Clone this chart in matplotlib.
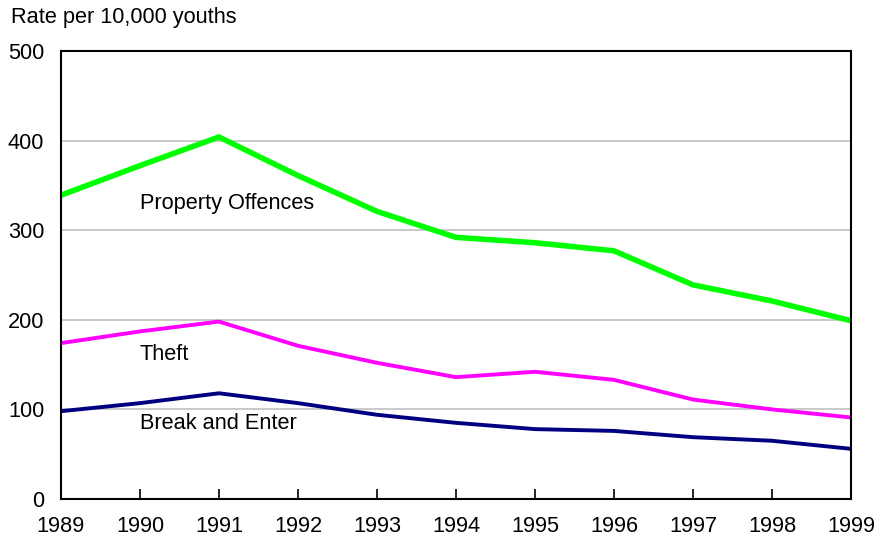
import matplotlib
matplotlib.use('Agg')
import matplotlib.pyplot as plt

plt.rcParams['font.family'] = ['Liberation Sans', 'DejaVu Sans']

years = [1989, 1990, 1991, 1992, 1993, 1994, 1995, 1996, 1997, 1998, 1999]
property_offences = [339, 372, 404, 361, 321, 292, 286, 277, 239, 221, 199]
theft = [174, 187, 198, 171, 152, 136, 142, 133, 111, 100, 91]
break_enter = [98, 107, 118, 107, 94, 85, 78, 76, 69, 65, 56]

fig = plt.figure(figsize=(8.85, 5.4), dpi=100)
ax = fig.add_axes([0.0689, 0.0759, 0.8927, 0.8297])

for v in [100, 200, 300, 400]:
    ax.axhline(v, color='#c0c0c0', lw=1.2, zorder=0)

ax.plot(years, property_offences, color='#00ff00', lw=4.0, solid_joinstyle='round')
ax.plot(years, theft, color='#ff00ff', lw=2.8)
ax.plot(years, break_enter, color='#000080', lw=2.8)

fs = 15.7
ax.text(1990, 330, 'Property Offences', fontsize=fs, va='center', ha='left')
ax.text(1990, 161, 'Theft', fontsize=fs, va='center', ha='left')
ax.text(1990, 84, 'Break and Enter', fontsize=fs, va='center', ha='left')

ax.set_xlim(1989, 1999)
ax.set_ylim(0, 500)
ax.set_xticks(years)
ax.set_yticks([0, 100, 200, 300, 400, 500])
ax.tick_params(axis='x', direction='in', length=7, width=1.2, labelsize=fs, pad=12)
ax.tick_params(axis='y', length=0, labelsize=fs, pad=12)
for s in ax.spines.values():
    s.set_linewidth(1.5)

fig.text(11 / 885, 1 - 17 / 540, 'Rate per 10,000 youths', fontsize=fs, va='center', ha='left')

fig.savefig('out.png', dpi=100)
